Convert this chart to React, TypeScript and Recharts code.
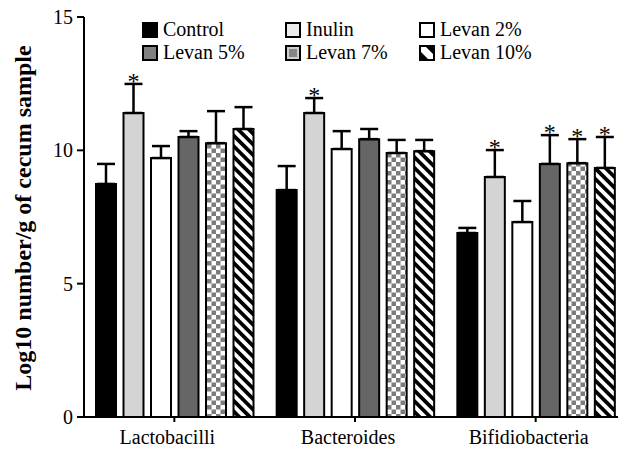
import { BarChart, Bar, XAxis, YAxis, ErrorBar, LabelList, Legend } from 'recharts';

const groups = ['Lactobacilli', 'Bacteroides', 'Bifidiobacteria'];
const yTicks = [0, 5, 10, 15];

// means and upper SEM per group (Lactobacilli, Bacteroides, Bifidiobacteria)
const control = [8.74, 8.51, 6.9];
const controlErr = [0.75, 0.9, 0.19];
const controlSig = [false, false, false];

const inulin = [11.4, 11.4, 9.0];
const inulinErr = [1.09, 0.56, 1.01];
const inulinSig = [true, true, true];

const levan2 = [9.71, 10.05, 7.31];
const levan2Err = [0.45, 0.67, 0.79];
const levan2Sig = [false, false, false];

const levan5 = [10.5, 10.42, 9.49];
const levan5Err = [0.22, 0.38, 1.08];
const levan5Sig = [false, false, true];

const levan7 = [10.27, 9.9, 9.52];
const levan7Err = [1.2, 0.49, 0.9];
const levan7Sig = [false, false, true];

const levan10 = [10.8, 9.97, 9.34];
const levan10Err = [0.82, 0.42, 1.16];
const levan10Sig = [false, false, true];

const FONT = '"Liberation Serif", "Times New Roman", serif';

const series = [
  { key: 'control', name: 'Control', mean: control, err: controlErr, sig: controlSig, fill: '#000000' },
  { key: 'inulin', name: 'Inulin', mean: inulin, err: inulinErr, sig: inulinSig, fill: '#d4d4d4' },
  { key: 'levan2', name: 'Levan 2%', mean: levan2, err: levan2Err, sig: levan2Sig, fill: '#ffffff' },
  { key: 'levan5', name: 'Levan 5%', mean: levan5, err: levan5Err, sig: levan5Sig, fill: '#666666' },
  { key: 'levan7', name: 'Levan 7%', mean: levan7, err: levan7Err, sig: levan7Sig, fill: 'url(#checker)' },
  { key: 'levan10', name: 'Levan 10%', mean: levan10, err: levan10Err, sig: levan10Sig, fill: 'url(#stripes)' },
];

const data = groups.map((g, i) => {
  const row: any = { group: g };
  series.forEach((s) => {
    row[s.key] = s.mean[i];
    row[s.key + 'Err'] = [0, s.err[i]];
  });
  return row;
});

function Swatch({ k }: { k: string }) {
  const box = { width: 16, height: 16, display: 'block' };
  if (k === 'control') {
    return <svg style={box}><rect x={0} y={0} width={16} height={16} fill="#000" /></svg>;
  }
  if (k === 'levan7') {
    return (
      <svg style={box}>
        <rect x={1} y={1} width={14} height={14} fill="#cfcfcf" stroke="#000" strokeWidth={2} />
        <rect x={4} y={4} width={8} height={8} fill="#858585" />
      </svg>
    );
  }
  if (k === 'levan10') {
    return (
      <svg style={box}>
        <rect x={1} y={1} width={14} height={14} fill="#fff" stroke="#000" strokeWidth={2} />
        <polygon points="1,6 1,15 10,15" fill="#000" />
        <polygon points="6,1 15,1 15,10" fill="#000" />
      </svg>
    );
  }
  const fill = k === 'inulin' ? '#ececec' : k === 'levan5' ? '#808080' : '#ffffff';
  return (
    <svg style={box}>
      <rect x={1} y={1} width={14} height={14} fill={fill} stroke="#000" strokeWidth={2} />
    </svg>
  );
}

function renderLegend() {
  return (
    <div
      style={{
        display: 'grid',
        gridTemplateColumns: '143px 134px 140px',
        rowGap: 6,
        fontFamily: FONT,
        fontSize: 20,
        lineHeight: '17px',
        color: '#000',
      }}
    >
      {series.map((s) => (
        <div key={s.key} style={{ display: 'flex', alignItems: 'center', gap: 5 }}>
          <Swatch k={s.key} />
          <span>{s.name}</span>
        </div>
      ))}
    </div>
  );
}

function starLabel(s: (typeof series)[number]) {
  return (props: any) => {
    const { x, y, width, height, value, index } = props;
    if (!s.sig[index]) return null;
    const errPx = (s.err[index] * Number(height)) / Number(value);
    return (
      <text
        x={Number(x) + Number(width) / 2}
        y={Number(y) - errPx + 5}
        textAnchor="middle"
        fontFamily={FONT}
        fontSize={24}
        fill="#000"
        stroke="none"
      >
        *
      </text>
    );
  };
}

export default function App() {
  return (
    <div style={{ position: 'relative', width: 626, height: 452, margin: -8, background: '#fff' }}>
      <svg width={0} height={0} style={{ position: 'absolute' }}>
        <defs>
          <pattern id="checker" width={9} height={9} patternUnits="userSpaceOnUse">
            <rect x={0} y={0} width={9} height={9} fill="#ffffff" />
            <rect x={0} y={0} width={4.5} height={4.5} fill="#7c7c7c" />
            <rect x={4.5} y={4.5} width={4.5} height={4.5} fill="#7c7c7c" />
          </pattern>
          <pattern id="stripes" width={7.5} height={7.5} patternUnits="userSpaceOnUse" patternTransform="rotate(-45)">
            <rect x={0} y={0} width={7.5} height={7.5} fill="#ffffff" />
            <rect x={0} y={0} width={3.75} height={7.5} fill="#000000" />
          </pattern>
        </defs>
      </svg>
      <BarChart
        width={626}
        height={452}
        data={data}
        margin={{ top: 17, right: 0, left: 0, bottom: 0 }}
        barSize={20}
        barGap={7.5}
      >
        <XAxis
          dataKey="group"
          height={35}
          axisLine={{ stroke: '#000', strokeWidth: 2 }}
          tickLine={{ stroke: '#000', strokeWidth: 2 }}
          tickSize={5}
          tickMargin={8}
          tick={{ fill: '#000', fontSize: 20, fontFamily: FONT, dx: -7 }}
        />
        <YAxis
          width={84}
          domain={[0, 15]}
          ticks={yTicks}
          interval={0}
          axisLine={{ stroke: '#000', strokeWidth: 2 }}
          tickLine={{ stroke: '#000', strokeWidth: 2 }}
          tickSize={7}
          tickMargin={4}
          tick={{ fill: '#000', fontSize: 20, fontFamily: FONT }}
          label={{
            content: () => (
              <text
                transform="translate(31,218) rotate(-90)"
                textAnchor="middle"
                fontFamily={FONT}
                fontWeight="bold"
                fontSize={24}
                fill="#000"
              >
                Log10 number/g of cecum sample
              </text>
            ),
          }}
        />
        <Legend
          layout="horizontal"
          verticalAlign="middle"
          align="center"
          content={renderLegend}
          wrapperStyle={{ position: 'absolute', top: 21, left: 142, width: 430, height: 40 }}
        />
        {series.map((s) => (
          <Bar
            key={s.key}
            dataKey={s.key}
            name={s.name}
            fill={s.fill}
            stroke="#000"
            strokeWidth={2}
            isAnimationActive={false}
          >
            <ErrorBar dataKey={s.key + 'Err'} direction="y" width={9} stroke="#000" strokeWidth={2.5} />
            <LabelList dataKey={s.key} content={starLabel(s)} />
          </Bar>
        ))}
      </BarChart>
    </div>
  );
}
